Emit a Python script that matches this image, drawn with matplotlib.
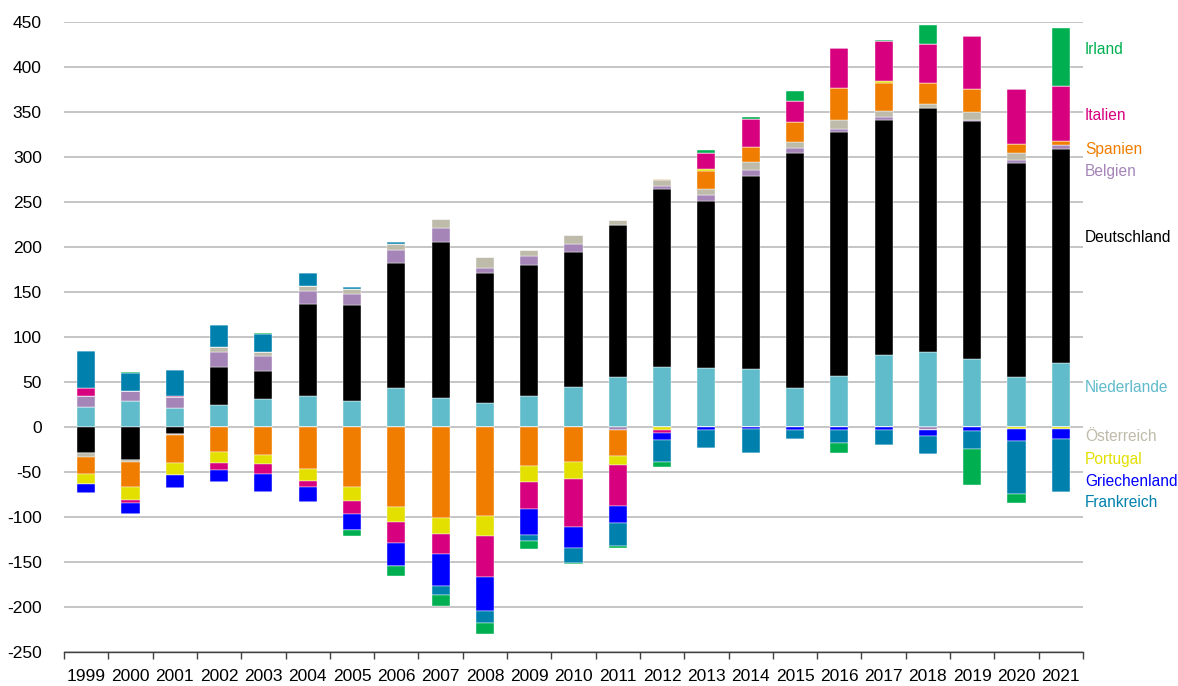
import matplotlib
matplotlib.use("Agg")
import matplotlib.pyplot as plt
import numpy as np

years = [str(y) for y in range(1999, 2022)]

# stacking order (from zero outward)
countries = ["Niederlande", "Deutschland", "Belgien", "Österreich", "Spanien",
             "Portugal", "Italien", "Griechenland", "Frankreich", "Irland"]

niederlande = [22, 28.6, 20.8, 24.5, 30.7, 34.4, 28.5, 43, 32.6, 27, 34.8, 44.4, 55.9,
               66.7, 65.9, 64.1, 43, 56.7, 79.6, 83.3, 75.6, 55.6, 71.5]
deutschland = [-28.6, -36.8, -7.4, 42.4, 31.5, 102.6, 106.7, 139.4, 173.4, 144.1, 145.2, 150, 168.5,
               197.7, 185.2, 215.2, 261.4, 271.4, 261.9, 271.1, 264, 237.7, 237.4]
belgien = [11.9, 11.5, 12.7, 16.7, 16.5, 14.1, 12.6, 14.1, 15.2, 5.6, 10, 8.6, -3.7,
           3.4, 7, 6.6, 5.2, 2.6, 2.9, -3.2, 1.5, 3.4, 4.8]
oesterreich = [-5.2, -2.2, -1.9, 5.2, 4.1, 5.2, 5.5, 6.7, 9.6, 12.6, 7, 10, 6,
               6.6, 6.7, 8.9, 6.7, 10.4, 6.3, 4.5, 8.5, 8.1, 0]
spanien = [-18.6, -27.5, -30.5, -27.9, -31.1, -47, -67, -88.9, -101.5, -99.3, -43.7, -39.3, -28.9,
           1.2, 20, 16.7, 22.2, 35.9, 31.5, 23, 26.3, 9.3, 3.7]
portugal = [-10.8, -14.2, -13.7, -12.2, -10, -13, -15.6, -16.7, -17, -21.4, -17.4, -18.8, -9.3,
            -3, 1.9, 0, 0, 0, 2.6, 0, 0, -2.2, -2]
italien = [9.3, -3.3, 1.5, -7.5, -10.8, -6.7, -13.7, -23, -22.2, -46, -29.6, -53, -46.2,
           -3.7, 18.1, 30.7, 23.4, 44.1, 44.2, 44, 58.2, 61.5, 61.5]
griechenland = [-9.7, -12.7, -13.8, -13.7, -20, -17, -18.5, -26.3, -35.6, -38.1, -29.7, -23, -18.6,
                -7.7, -3, -2.2, -3, -3.7, -3.7, -6.8, -4.8, -13.4, -11.5]
frankreich = [40.9, 19.8, 27.8, 24.3, 20.7, 15.2, 2.6, 2, -10, -13.3, -6.6, -16.6, -25.2,
              -24.1, -20.3, -26.7, -10.3, -13.7, -16.3, -20.4, -20, -59.2, -58.9]
irland = [0, 1, 0, 0, 0.5, 0, -5.9, -10.4, -12.6, -11.9, -8.9, -1.5, -2.2,
          -5.6, 3, 2.6, 11.4, -11.5, 1.4, 20.4, -39.6, -9.6, 64.8]

series = [niederlande, deutschland, belgien, oesterreich, spanien,
          portugal, italien, griechenland, frankreich, irland]

colors = {
    "Niederlande": "#60BBCB",
    "Deutschland": "#000000",
    "Belgien": "#A585B8",
    "Österreich": "#BEBBAA",
    "Spanien": "#F07D00",
    "Portugal": "#E3E000",
    "Italien": "#D7007F",
    "Griechenland": "#0000FF",
    "Frankreich": "#0081AD",
    "Irland": "#00B050",
}

# right-hand labels (top to bottom) and their vertical positions in data units
label_order = ["Irland", "Italien", "Spanien", "Belgien", "Deutschland", "Niederlande",
               "Österreich", "Portugal", "Griechenland", "Frankreich"]
label_y = [419, 346, 308, 284, 211, 44, -11, -36, -60, -84]

plt.rcParams['font.family'] = ['Liberation Sans', 'DejaVu Sans']

fig = plt.figure(figsize=(11.78, 6.86), dpi=100)
ax = fig.add_axes([64 / 1178, 1 - 652 / 686, (1083 - 64) / 1178, (652 - 22) / 686])

x = np.arange(len(years))
pos_base = np.zeros(len(years))
neg_base = np.zeros(len(years))
for name, vals in zip(countries, series):
    v = np.array(vals, dtype=float)
    pos = np.where(v > 0, v, 0)
    neg = np.where(v < 0, v, 0)
    ax.bar(x, pos, bottom=pos_base, width=0.41, color=colors[name],
           edgecolor="white", linewidth=0.3, zorder=3)
    ax.bar(x, neg, bottom=neg_base, width=0.41, color=colors[name],
           edgecolor="white", linewidth=0.3, zorder=3)
    pos_base += pos
    neg_base += neg

ax.set_xlim(-0.5, len(years) - 0.5)
ax.set_ylim(-250, 450)
ax.set_yticks(np.arange(-250, 451, 50))
ax.set_yticklabels([str(v) for v in range(-250, 451, 50)], fontsize=12.5)
ax.yaxis.grid(True, color="#C0C0C0", linewidth=1.3, zorder=0)
ax.set_axisbelow(True)

ax.set_xticks(x)
ax.set_xticklabels(years, fontsize=12.5)
ax.set_xticks(np.arange(-0.5, len(years), 1.0), minor=True)
ax.tick_params(axis="x", which="major", length=0, pad=12)
ax.tick_params(axis="x", which="minor", length=5, width=1, color="#404040", direction="out")
ax.tick_params(axis="y", length=0, pad=16)

for s in ["top", "right", "left"]:
    ax.spines[s].set_visible(False)
ax.spines["bottom"].set_color("#404040")
ax.spines["bottom"].set_linewidth(1)

for name, yv in zip(label_order, label_y):
    ax.text(1.002, yv, name, transform=ax.get_yaxis_transform(), color=colors[name],
            fontsize=11.2, va="center", ha="left")

fig.savefig("out.png", dpi=100)
